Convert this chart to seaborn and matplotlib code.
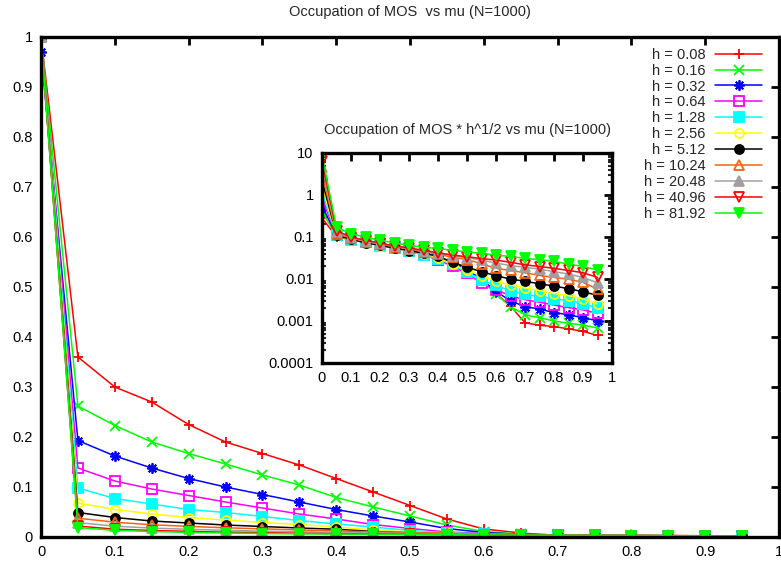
import numpy as np
import pandas as pd
import matplotlib
matplotlib.use("Agg")
import matplotlib.pyplot as plt
import seaborn as sns

# ---- data (occupation of MOS vs mu) ----
mu = [0.0, 0.05, 0.1, 0.15, 0.2, 0.25, 0.3, 0.35, 0.4, 0.45,
      0.5, 0.55, 0.6, 0.65, 0.7, 0.75, 0.8, 0.85, 0.9, 0.95]

h_values = [0.08, 0.16, 0.32, 0.64, 1.28, 2.56, 5.12, 10.24, 20.48, 40.96, 81.92]
h_labels = ["h = 0.08", "h = 0.16", "h = 0.32", "h = 0.64", "h = 1.28", "h = 2.56",
            "h = 5.12", "h = 10.24", "h = 20.48", "h = 40.96", "h = 81.92"]

occ_h008 = [1.0, 0.36, 0.30, 0.27, 0.225, 0.19, 0.167, 0.144, 0.117, 0.09,
            0.063, 0.036, 0.016, 0.008, 0.0032, 0.0028, 0.0026, 0.0023, 0.002, 0.0016]
occ_h016 = [1.0, 0.262, 0.223, 0.19, 0.167, 0.146, 0.124, 0.104, 0.079, 0.06,
            0.042, 0.024, 0.011, 0.0055, 0.0035, 0.003, 0.0025, 0.0022, 0.002, 0.0017]
occ_h032 = [0.97, 0.193, 0.162, 0.138, 0.117, 0.10, 0.085, 0.07, 0.055, 0.042,
            0.03, 0.017, 0.009, 0.0053, 0.0039, 0.0034, 0.0028, 0.0025, 0.0021, 0.0018]
occ_h064 = [1.0, 0.138, 0.112, 0.096, 0.083, 0.070, 0.058, 0.046, 0.036, 0.025,
            0.017, 0.01, 0.0069, 0.005, 0.004, 0.0035, 0.003, 0.0026, 0.0023, 0.0019]
occ_h128 = [1.0, 0.098, 0.077, 0.066, 0.055, 0.049, 0.041, 0.033, 0.026, 0.02,
            0.013, 0.0084, 0.0062, 0.0046, 0.0038, 0.0034, 0.003, 0.0027, 0.0023, 0.0018]
occ_h256 = [1.0, 0.068, 0.055, 0.046, 0.039, 0.034, 0.029, 0.025, 0.02, 0.014,
            0.01, 0.0075, 0.0055, 0.0045, 0.0038, 0.0033, 0.0028, 0.0025, 0.0021, 0.0016]
occ_h512 = [1.0, 0.049, 0.039, 0.032, 0.028, 0.024, 0.021, 0.018, 0.0155, 0.011,
            0.0084, 0.0066, 0.0053, 0.0044, 0.0039, 0.0034, 0.003, 0.0026, 0.0022, 0.0018]
occ_h1024 = [1.0, 0.0375, 0.0297, 0.0244, 0.0213, 0.0184, 0.0163, 0.0141, 0.0122, 0.0103,
             0.0091, 0.0072, 0.0056, 0.005, 0.0044, 0.0038, 0.0034, 0.0031, 0.0026, 0.0018]
occ_h2048 = [1.0, 0.0287, 0.0217, 0.0177, 0.0155, 0.0133, 0.0117, 0.0104, 0.0091, 0.008,
             0.0071, 0.0062, 0.0053, 0.0046, 0.0042, 0.0038, 0.0033, 0.0029, 0.0024, 0.0018]
occ_h4096 = [1.0, 0.0219, 0.0156, 0.013, 0.0113, 0.0095, 0.0086, 0.0075, 0.0066, 0.0058,
             0.0053, 0.0048, 0.0044, 0.0039, 0.0034, 0.0031, 0.0028, 0.0025, 0.0022, 0.0017]
occ_h8192 = [1.0, 0.0188, 0.0133, 0.011, 0.0092, 0.008, 0.007, 0.0063, 0.0059, 0.0053,
             0.0049, 0.0045, 0.0041, 0.0038, 0.0034, 0.0032, 0.0029, 0.0025, 0.0022, 0.0018]

occupations = [occ_h008, occ_h016, occ_h032, occ_h064, occ_h128, occ_h256,
               occ_h512, occ_h1024, occ_h2048, occ_h4096, occ_h8192]

# gnuplot-like styles: (color, marker, filled)
styles = [
    ("#ff0000", "+", True),
    ("#00ff00", "x", True),
    ("#0000ff", (8, 2, 0), True),
    ("#ff00ff", "s", False),
    ("#00ffff", "s", True),
    ("#ffff00", "o", False),
    ("#000000", "o", True),
    ("#ff6010", "^", False),
    ("#a0a0a0", "^", True),
    ("#ff0000", "v", False),
    ("#00ff00", "v", True),
]

sns.set_theme(style="white")
plt.rcParams["font.family"] = ["Liberation Sans", "DejaVu Sans"]
plt.rcParams["font.size"] = 10.5

rows = []
for h, lab, occ in zip(h_values, h_labels, occupations):
    for m, v in zip(mu, occ):
        rows.append({"mu": m, "occ": v, "scaled": v * np.sqrt(h), "label": lab})
df = pd.DataFrame(rows)

fig = plt.figure(figsize=(7.81, 5.65), dpi=100)
ax = fig.add_axes([41 / 781, 28 / 565, 738 / 781, 500 / 565])
ins = fig.add_axes([322 / 781, 202 / 565, 290 / 781, 210 / 565])


def draw(axis, ycol, with_label):
    for lab, (col, mk, filled) in zip(h_labels, styles):
        d = df[df["label"] == lab]
        sns.lineplot(data=d, x="mu", y=ycol, ax=axis, color=col, lw=1.1,
                     marker=mk, markersize=7.5 if mk in ("+", "x", (8, 2, 0)) else 6.5,
                     markerfacecolor=col if filled else "none",
                     markeredgecolor=col, markeredgewidth=1.3,
                     label=lab if with_label else None, legend=False,
                     estimator=None, sort=False)


draw(ax, "occ", True)
draw(ins, "scaled", False)

for a in (ax, ins):
    for s in a.spines.values():
        s.set_linewidth(2.4)
        s.set_color("black")
    a.tick_params(which="major", direction="in", length=6, width=2,
                  top=True, right=True, labelsize=10.5, colors="black", pad=6)
    a.set_xlabel("")
    a.set_ylabel("")
    a.grid(False)

ticks = np.round(np.arange(0, 1.01, 0.1), 1)
ticklabels = ["0" if t == 0 else ("1" if t == 1 else f"{t:g}") for t in ticks]

ax.set_xlim(0, 1)
ax.set_ylim(0, 1)
ax.set_xticks(ticks, ticklabels)
ax.set_yticks(ticks, ticklabels)
ax.set_title("Occupation of MOS  vs mu (N=1000)", fontsize=10.5, pad=15)

ins.set_yscale("log")
ins.set_xlim(0, 1)
ins.set_ylim(1e-4, 10)
ins.set_xticks(ticks, ticklabels)
ins.set_yticks([1e-4, 1e-3, 1e-2, 1e-1, 1, 10],
               ["0.0001", "0.001", "0.01", "0.1", "1", "10"])
ins.yaxis.set_minor_locator(matplotlib.ticker.LogLocator(base=10, subs=np.arange(2, 10)))
ins.yaxis.set_minor_formatter(matplotlib.ticker.NullFormatter())
ins.tick_params(which="minor", direction="in", length=3, width=1.5, left=True, right=True)
ins.set_title("Occupation of MOS * h^1/2 vs mu (N=1000)", fontsize=10.5, pad=14)

leg = ax.legend(loc="upper right", bbox_to_anchor=(0.989, 0.996), frameon=False,
                markerfirst=False, handlelength=3.2, handletextpad=0.7,
                labelspacing=0.13, fontsize=10.5, borderaxespad=0.2)

fig.savefig("out.png", dpi=100)
